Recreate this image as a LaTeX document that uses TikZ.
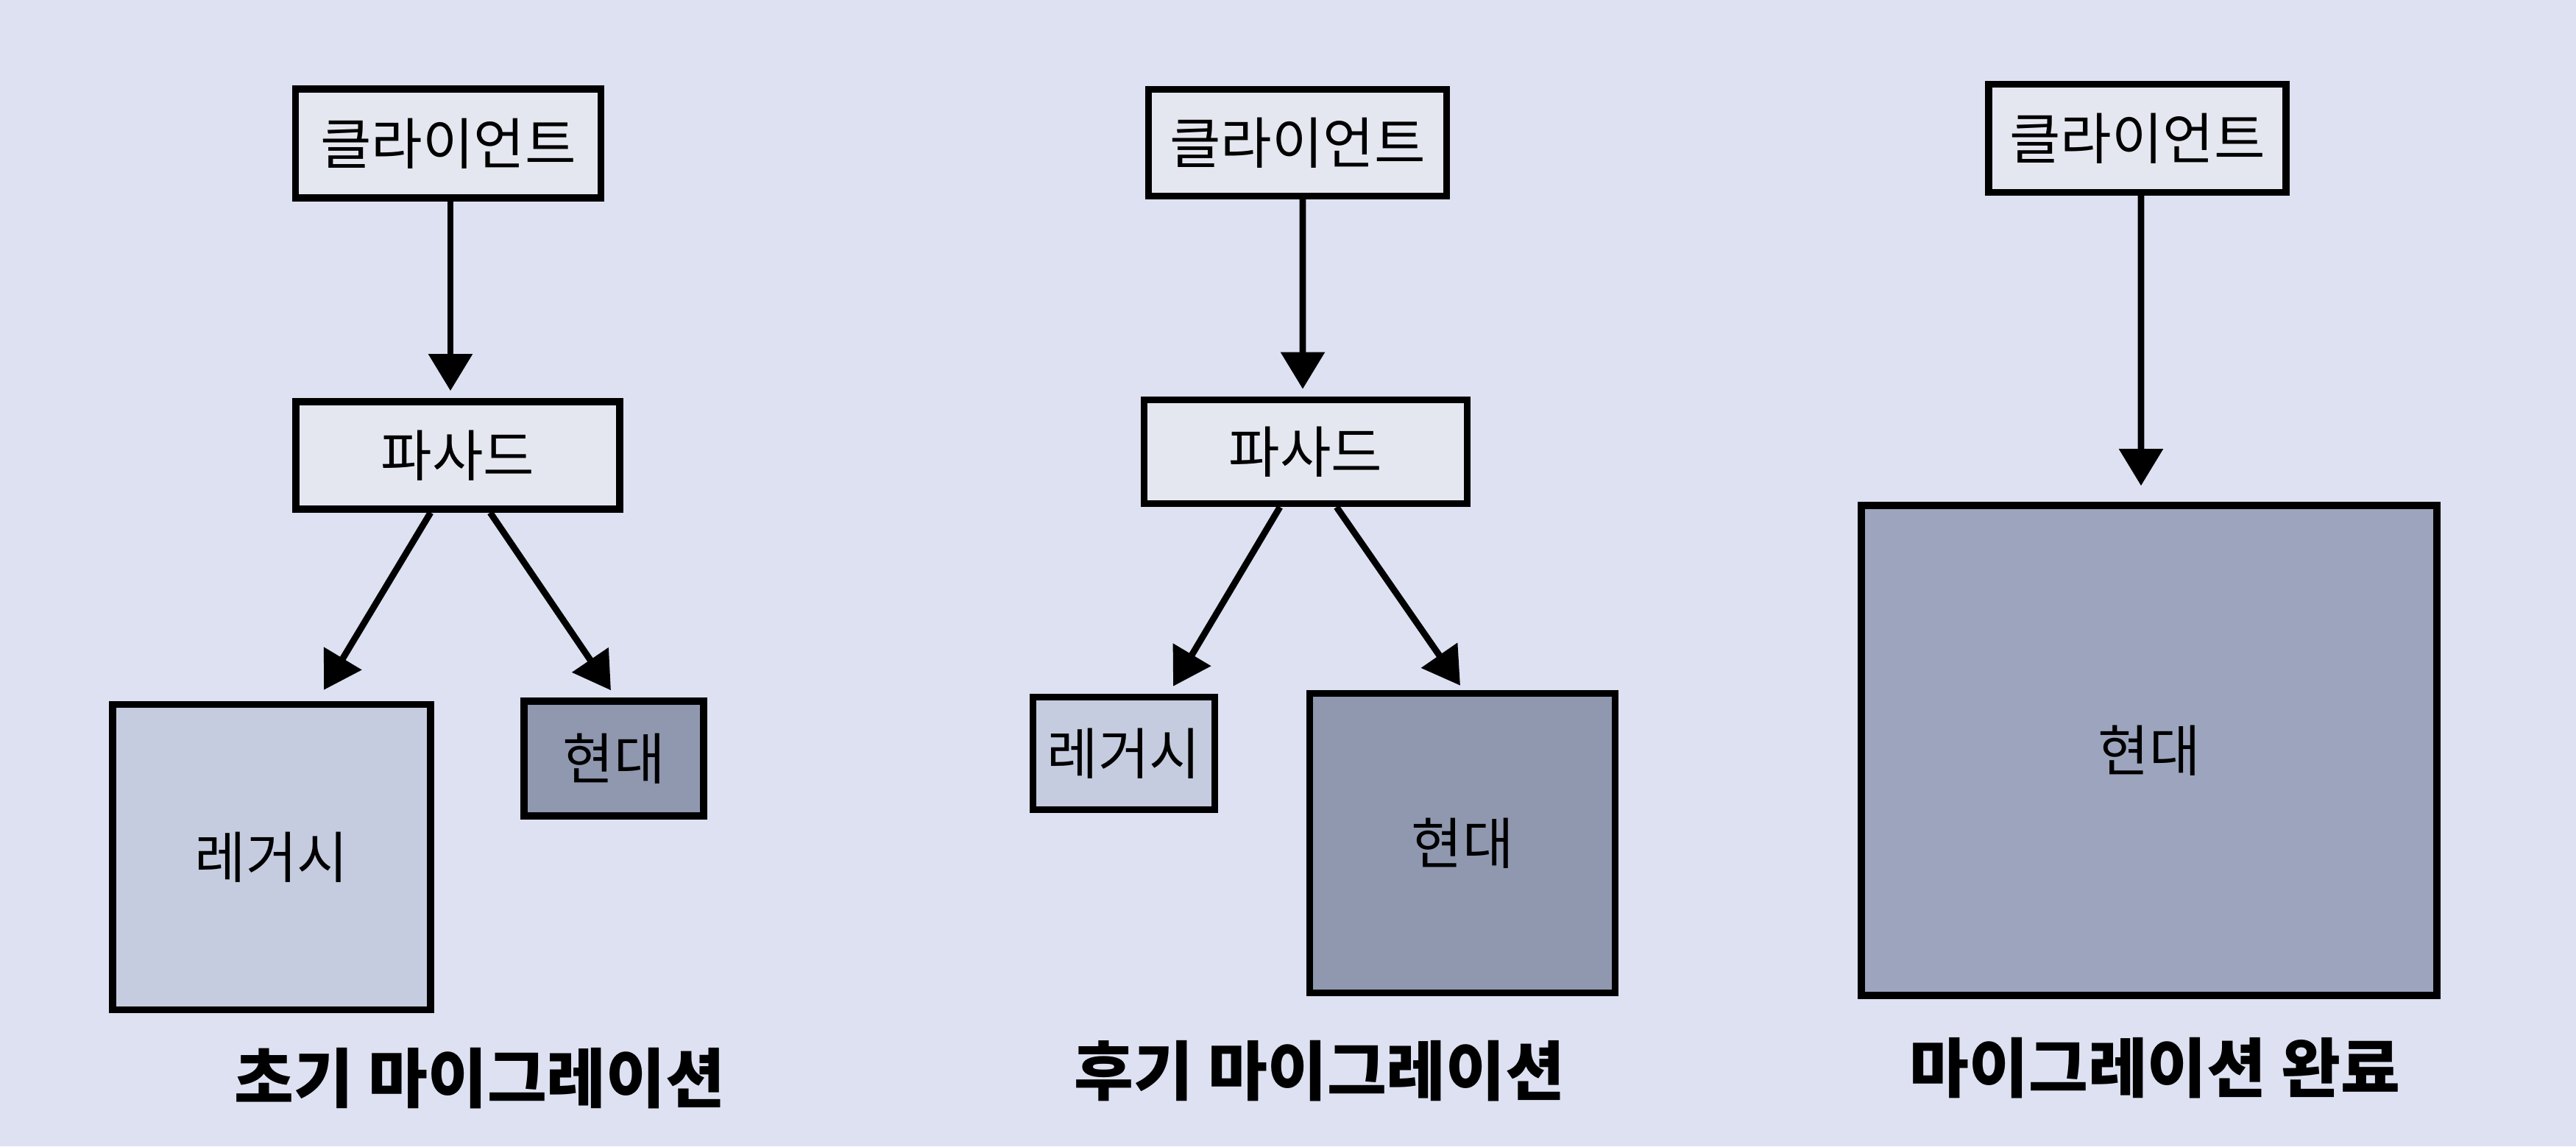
\documentclass[tikz,border=0pt]{standalone}
\usepackage{fontspec}
\setmainfont{Noto Sans CJK KR}
\usepackage{tikz}
\usetikzlibrary{calc}
\usetikzlibrary{arrows.meta}
\definecolor{bgcol}{HTML}{DDE1F1}
\definecolor{lightbox}{HTML}{E5E7F0}
\definecolor{legacycol}{HTML}{C5CCDF}
\definecolor{moderncol}{HTML}{8F98AF}
\definecolor{donecol}{HTML}{9CA5BD}
\tikzset{boxnode/.style={draw=black, line width=2.7pt, inner sep=0, font=\fontsize{21.5}{25}\selectfont}}
\tikzset{flowarrow/.style={black, line width=2.5pt, -{Triangle[length=5mm,width=5.8mm]}}}
\tikzset{paneltitle/.style={font=\fontsize{25}{29}\selectfont\bfseries}}

\begin{document}
\begin{tikzpicture}
\fill[bgcol] (0,0) rectangle (35,15.58);
\useasboundingbox (0,0) rectangle (35,15.58);
% initial migration
\node[boxnode, fill=lightbox, minimum width=4.15cm, minimum height=1.48cm] (client1) at (6.09,13.63) {클라이언트};
\node[boxnode, fill=lightbox, minimum width=4.4cm, minimum height=1.46cm] (facade1) at (6.22,9.39) {파사드};
\node[boxnode, fill=legacycol, minimum width=4.32cm, minimum height=4.15cm] (legacy1) at (3.69,3.93) {레거시};
\node[boxnode, fill=moderncol, minimum width=2.44cm, minimum height=1.56cm] (modern1) at (8.34,5.27) {현대};
\node[paneltitle] (title1) at (6.52,0.92) {초기 마이그레이션};
\draw[flowarrow] ([xshift=0.03cm]client1.south) -- ([xshift=-0.1cm,yshift=0.1cm]facade1.north);
\draw[flowarrow] ([xshift=-0.37cm]facade1.south) -- ([xshift=0.71cm,yshift=0.15cm]legacy1.north);
\draw[flowarrow] ([xshift=0.44cm]facade1.south) -- ([xshift=-0.04cm,yshift=0.1cm]modern1.north);
% late migration
\node[boxnode, fill=lightbox, minimum width=4.05cm, minimum height=1.45cm] (client2) at (17.63,13.64) {클라이언트};
\node[boxnode, fill=lightbox, minimum width=4.39cm, minimum height=1.41cm] (facade2) at (17.74,9.44) {파사드};
\node[boxnode, fill=legacycol, minimum width=2.47cm, minimum height=1.53cm] (legacy2) at (15.27,5.34) {레거시};
\node[boxnode, fill=moderncol, minimum width=4.15cm, minimum height=4.07cm] (modern2) at (19.87,4.12) {현대};
\node[paneltitle] (title2) at (17.93,1.02) {후기 마이그레이션};
\draw[flowarrow] ([xshift=0.07cm]client2.south) -- ([xshift=-0.04cm,yshift=0.1cm]facade2.north);
\draw[flowarrow] ([xshift=-0.35cm]facade2.south) -- ([xshift=0.67cm,yshift=0.1cm]legacy2.north);
\draw[flowarrow] ([xshift=0.42cm]facade2.south) -- ([xshift=-0.03cm,yshift=0.06cm]modern2.north);
% migration done
\node[boxnode, fill=lightbox, minimum width=4.04cm, minimum height=1.47cm] (client3) at (29.04,13.70) {클라이언트};
\node[boxnode, fill=donecol, minimum width=7.82cm, minimum height=6.66cm] (modern3) at (29.20,5.38) {현대};
\node[paneltitle] (title3) at (29.28,1.06) {마이그레이션 완료};
\draw[flowarrow] ([xshift=0.05cm]client3.south) -- ([xshift=-0.11cm,yshift=0.22cm]modern3.north);
\end{tikzpicture}
\end{document}
